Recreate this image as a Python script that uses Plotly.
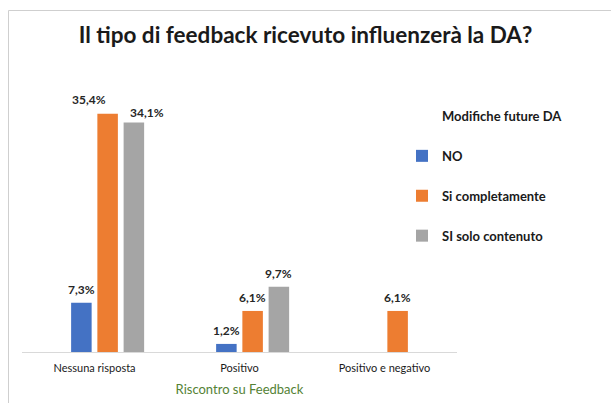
import plotly.graph_objects as go

# ---- data ----
categories = ["Nessuna risposta", "Positivo", "Positivo e negativo"]
series_names = ["Modifiche future DA", "NO", "Si completamente", "SI solo contenuto"]
header_vals = [None, None, None]          # header entry of the legend (no data)
no_vals = [7.3, 1.2, None]
si_comp_vals = [35.4, 6.1, 6.1]
si_solo_vals = [34.1, 9.7, None]

series_values = [header_vals, no_vals, si_comp_vals, si_solo_vals]
colors = ["rgba(0,0,0,0)", "#4472C4", "#ED7D31", "#A5A5A5"]

W, H = 611, 403
ML, MR, MT, MB = 22, 154, 96, 51
PW, PH = W - ML - MR, H - MT - MB
PX_PER_UNIT = 6.73
BARGAP, BARGROUPGAP = 0.276, 0.218

fig = go.Figure()
for name, vals, col in zip(series_names, series_values, colors):
    fig.add_trace(go.Bar(
        x=categories, y=vals, name=name, marker_color=col,
        marker_line_width=0, legendgroup=name,
    ))

# data labels (manually nudged like the original)
cat_w = PW / len(categories)
slot = cat_w * (1 - BARGAP) / len(series_names)
nudges = {(2, 0): (-19, 1), (3, 0): (13, -3)}
annotations = []
for i, vals in enumerate(series_values):
    for j, v in enumerate(vals):
        if v is None:
            continue
        dx, dy = nudges.get((i, j), (0, 0))
        annotations.append(dict(
            x=categories[j], y=v, xref="x", yref="y",
            text=f"{v:.1f}%".replace(".", ","), showarrow=False,
            xshift=(i - (len(series_names) - 1) / 2) * slot + dx,
            yshift=13 + dy, yanchor="middle",
            font=dict(family="Lato", size=12, color="#262626", weight="bold"),
        ))

# chart frame (only top and left edges fall inside the view)
def px_x(p):
    return (p - ML) / PW

def px_y(p):
    return (H - MB - p) / PH

shapes = [
    dict(type="rect", xref="paper", yref="paper",
         x0=px_x(8.5), x1=px_x(W + 5), y0=px_y(10.5), y1=px_y(H + 5),
         line=dict(color="#CFCFCF", width=1), fillcolor="rgba(0,0,0,0)", layer="above"),
]

fig.update_layout(
    width=W, height=H,
    margin=dict(l=ML, r=MR, t=MT, b=MB, pad=0, autoexpand=False),
    paper_bgcolor="white", plot_bgcolor="white",
    barmode="group", bargap=BARGAP, bargroupgap=BARGROUPGAP,
    title=dict(text="Il tipo di feedback ricevuto influenzerà la DA?",
               x=0.5, xref="container", xanchor="center",
               y=1 - 35 / H, yref="container", yanchor="middle",
               font=dict(family="Lato", size=22.5, color="#1A1A1A", weight="bold")),
    showlegend=True,
    legend=dict(xref="container", yref="container", x=402 / W, y=1 - 101 / H,
                xanchor="left", yanchor="top", tracegroupgap=20,
                bgcolor="rgba(0,0,0,0)",
                font=dict(family="Lato", size=13, color="#1A1A1A", weight="bold")),
    xaxis=dict(showline=True, linecolor="#D9D9D9", linewidth=1, showgrid=False,
               ticks="outside", ticklen=6, tickcolor="rgba(0,0,0,0)",
               tickfont=dict(family="Lato", size=11, color="#1A1A1A"),
               title=dict(text="Riscontro su Feedback", standoff=11,
                          font=dict(family="Lato", size=13, color="#548235"))),
    yaxis=dict(range=[0, PH / PX_PER_UNIT], visible=False, showgrid=False),
    annotations=annotations,
    shapes=shapes,
)

fig.write_html("out.html", config={"displayModeBar": False},
               post_script="document.body.style.margin='0';")
